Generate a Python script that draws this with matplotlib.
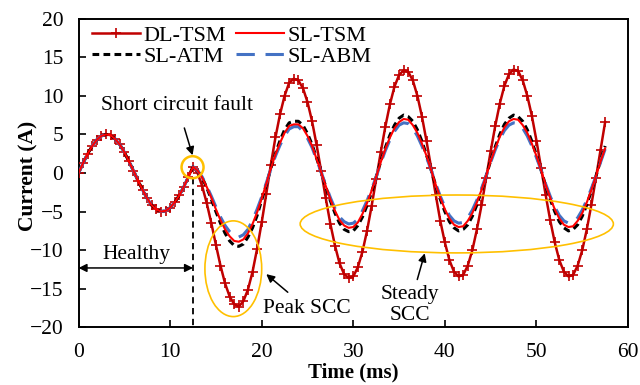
import numpy as np
import matplotlib
matplotlib.use("Agg")
from matplotlib import pyplot as plt
from matplotlib.patches import Ellipse

plt.rcParams['font.family'] = ['Liberation Serif', 'DejaVu Serif']
plt.rcParams['font.size'] = 15.5

# time grid (ms), one sample every 0.5 ms
time_ms = np.arange(0, 57.6, 0.5)

# healthy part, 0 .. 12.5 ms (same for all models)
healthy = [0.0, 1.3, 2.5, 3.5, 4.3, 4.8, 5.0, 4.9, 4.4, 3.7, 2.7, 1.5, 0.3,
           -1.0, -2.2, -3.3, -4.2, -4.7, -5.0, -4.9, -4.5, -3.8, -2.9, -1.8, -0.5, 0.8]

# after the fault, 13.0 .. 57.5 ms
dl_tsm_fault = [0.0, -1.7, -3.9, -6.5, -9.3, -12.0, -14.3, -16.0, -17.0, -17.3,
                -16.6, -15.1, -12.8, -9.8, -6.4, -2.7, 1.1, 4.6, 7.6, 10.0,
                11.7, 12.2, 12.0, 11.0, 9.2, 6.7, 3.6, 0.2, -3.3, -6.6,
                -9.4, -11.7, -13.1, -13.6, -13.4, -12.2, -10.2, -7.5, -4.3, -0.8,
                2.7, 6.0, 8.9, 11.2, 12.7, 13.3, 13.1, 12.0, 10.0, 7.3,
                4.1, 0.7, -2.8, -6.2, -9.0, -11.3, -12.8, -13.4, -13.2, -12.0,
                -10.0, -7.3, -4.2, -0.7, 2.8, 6.1, 9.0, 11.3, 12.8, 13.4,
                13.2, 12.0, 10.0, 7.4, 4.2, 0.7, -2.8, -6.1, -9.0, -11.3,
                -12.8, -13.4, -13.2, -12.0, -10.0, -7.3, -4.1, -0.6, 3.0, 6.6]
sl_tsm_fault = [0.3, -0.6, -1.8, -3.2, -4.7, -6.1, -7.3, -8.2, -8.8, -8.9,
                -8.6, -7.8, -6.6, -5.1, -3.3, -1.4, 0.6, 2.4, 3.9, 5.2,
                6.1, 6.3, 6.3, 5.8, 4.8, 3.5, 1.8, 0.1, -1.7, -3.4,
                -4.9, -6.1, -6.8, -7.1, -7.0, -6.4, -5.3, -3.9, -2.3, -0.5,
                1.4, 3.1, 4.6, 5.8, 6.6, 7.0, 6.9, 6.2, 5.2, 3.8,
                2.2, 0.4, -1.5, -3.2, -4.7, -5.9, -6.7, -7.0, -6.9, -6.2,
                -5.2, -3.8, -2.2, -0.4, 1.5, 3.2, 4.7, 5.9, 6.7, 7.0,
                6.9, 6.2, 5.2, 3.8, 2.2, 0.4, -1.5, -3.2, -4.7, -5.9,
                -6.7, -7.0, -6.9, -6.2, -5.2, -3.8, -2.2, -0.4, 1.5, 3.2]
sl_atm_fault = [0.3, -0.6, -1.9, -3.4, -5.0, -6.5, -7.8, -8.8, -9.4, -9.5,
                -9.2, -8.3, -7.1, -5.5, -3.5, -1.5, 0.6, 2.5, 4.2, 5.6,
                6.5, 6.7, 6.7, 6.2, 5.1, 3.7, 1.9, 0.1, -1.8, -3.6,
                -5.2, -6.5, -7.3, -7.6, -7.5, -6.8, -5.7, -4.2, -2.5, -0.5,
                1.5, 3.3, 4.9, 6.2, 7.1, 7.5, 7.3, 6.7, 5.6, 4.1,
                2.3, 0.4, -1.6, -3.4, -5.0, -6.3, -7.1, -7.5, -7.3, -6.7,
                -5.6, -4.1, -2.3, -0.4, 1.6, 3.4, 5.0, 6.3, 7.1, 7.5,
                7.3, 6.7, 5.6, 4.1, 2.3, 0.4, -1.6, -3.4, -5.0, -6.3,
                -7.1, -7.5, -7.3, -6.7, -5.6, -4.1, -2.3, -0.4, 1.6, 3.5]
sl_abm_fault = [0.3, -0.5, -1.7, -3.0, -4.4, -5.7, -6.8, -7.6, -8.2, -8.3,
                -8.0, -7.3, -6.1, -4.7, -3.1, -1.3, 0.5, 2.2, 3.6, 4.8,
                5.7, 6.0, 6.0, 5.4, 4.5, 3.3, 1.7, 0.1, -1.6, -3.2,
                -4.6, -5.7, -6.3, -6.6, -6.5, -6.0, -4.9, -3.6, -2.1, -0.5,
                1.3, 2.9, 4.3, 5.4, 6.2, 6.5, 6.4, 5.8, 4.8, 3.5,
                2.0, 0.4, -1.4, -3.0, -4.4, -5.5, -6.2, -6.5, -6.4, -5.8,
                -4.8, -3.5, -2.0, -0.4, 1.4, 3.0, 4.4, 5.5, 6.2, 6.5,
                6.4, 5.8, 4.8, 3.5, 2.0, 0.4, -1.4, -3.0, -4.4, -5.5,
                -6.2, -6.5, -6.4, -5.8, -4.8, -3.5, -2.0, -0.4, 1.4, 3.1]

dl_tsm = healthy + dl_tsm_fault
sl_tsm = healthy + sl_tsm_fault
sl_atm = healthy + sl_atm_fault
sl_abm = healthy + sl_abm_fault

t_fault = 12.5
gold = '#FFC000'

fig = plt.figure(figsize=(6.4, 3.85), dpi=100)
ax = fig.add_axes([0.1227, 0.1496, 0.8586, 0.8021])

h1, = ax.plot(time_ms, dl_tsm, color='#C00000', lw=1.8, marker='+', ms=6.5, mew=1.2,
              label='DL-TSM', zorder=3)
h3, = ax.plot(time_ms, sl_atm, color='black', lw=2.2, dashes=(2.2, 1.4),
              label='SL-ATM', zorder=4)
h4, = ax.plot(time_ms, sl_abm, color='#4472C4', lw=2.2, dashes=(6, 3.5),
              label='SL-ABM', zorder=5)
h2, = ax.plot(time_ms, sl_tsm, color='#FF0000', lw=1.5, label='SL-TSM', zorder=6)

ax.legend(handles=[h1, h3, h2, h4], ncol=2, loc='upper left', frameon=False,
          bbox_to_anchor=(0.025, 0.978), borderpad=0, borderaxespad=0, fontsize=16,
          handlelength=2.15, handletextpad=0.15, columnspacing=0.45, labelspacing=0.02)

# fault marker
ax.plot([t_fault, t_fault], [-0.6, -20], color='black', lw=1.3, dashes=(3.5, 2.5), zorder=2)
ax.add_patch(Ellipse((12.45, 0.75), 2.4, 2.85, fill=False, ec=gold, lw=1.8, zorder=7))
ax.annotate('Short circuit fault', xy=(12.45, 2.3), xytext=(10.8, 8.8),
            ha='center', va='center',
            arrowprops=dict(arrowstyle='-|>', color='black', lw=1.1, mutation_scale=12,
                            shrinkA=8, shrinkB=0))

# healthy span
ax.annotate('', xy=(0, -12.3), xytext=(t_fault, -12.3),
            arrowprops=dict(arrowstyle='<|-|>', color='black', lw=1.1, mutation_scale=12,
                            shrinkA=0, shrinkB=0))
ax.text(6.3, -10.6, 'Healthy', ha='center', va='center')

# peak SCC
ax.add_patch(Ellipse((16.9, -12.4), 6.2, 12.4, fill=False, ec=gold, lw=1.2, zorder=7))
ax.annotate('Peak SCC', xy=(20.5, -13.1), xytext=(24.9, -17.5), ha='center', va='center',
            arrowprops=dict(arrowstyle='-|>', color='black', lw=1.1, mutation_scale=12,
                            shrinkA=4, shrinkB=0))

# steady SCC
ax.add_patch(Ellipse((41.3, -6.6), 34.2, 7.5, fill=False, ec=gold, lw=1.2, zorder=7))
ax.annotate('Steady\nSCC', xy=(37.8, -10.4), xytext=(36.2, -17.1), ha='center', va='center',
            linespacing=1.15,
            arrowprops=dict(arrowstyle='-|>', color='black', lw=1.1, mutation_scale=12,
                            shrinkA=2, shrinkB=0))

ax.set_xlim(0, 60)
ax.set_ylim(-20, 20)
ax.set_xticks(np.arange(0, 61, 10))
ax.set_yticks(np.arange(-20, 21, 5))
ax.tick_params(axis='both', direction='in', length=5, width=1.2)
ax.tick_params(axis='x', pad=11)
ax.tick_params(axis='y', pad=11)
for s in ax.spines.values():
    s.set_linewidth(1.4)

ax.set_xlabel('Time (ms)', fontweight='bold', fontsize=15)
ax.set_ylabel('Current (A)', fontweight='bold')
ax.xaxis.set_label_coords(0.5, -0.112)
ax.yaxis.set_label_coords(-0.072, 0.49)

fig.savefig('out.png', dpi=100)
